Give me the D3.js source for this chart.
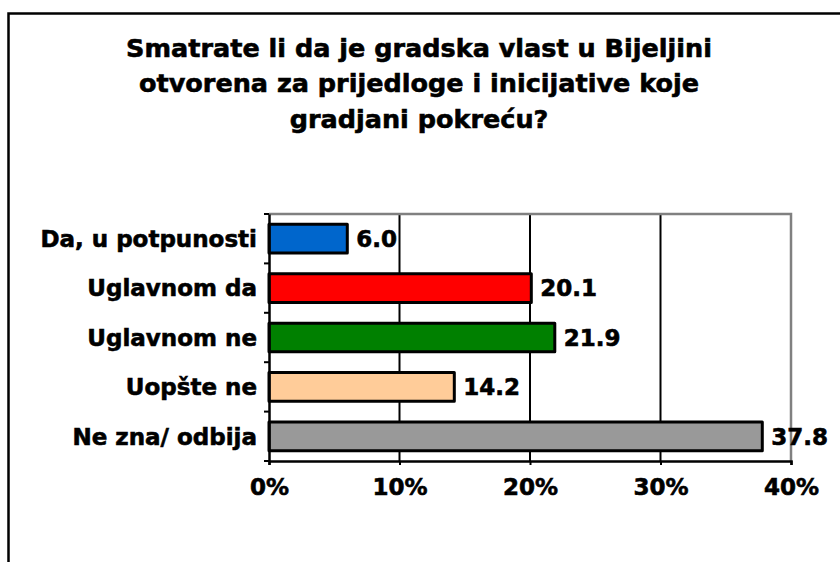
<!DOCTYPE html>
<html><head><meta charset="utf-8">
<script src="https://cdn.jsdelivr.net/npm/d3@7"></script>
<style>html,body{margin:0;padding:0;background:#fff;}svg{display:block;}svg text{font-family:"DejaVu Sans",Verdana,sans-serif !important;font-weight:bold;fill:#000;stroke:#000;stroke-width:0.6px;}</style>
</head><body>
<script>
const titleLines = ["Smatrate li da je gradska vlast u Bijeljini", "otvorena za prijedloge i inicijative koje", "gradjani pokreću?"];
const categories = ["Da, u potpunosti", "Uglavnom da", "Uglavnom ne", "Uopšte ne", "Ne zna/ odbija"];
const values = [6.0, 20.1, 21.9, 14.2, 37.8];
const colors = ["#0066CC", "#FF0000", "#008000", "#FFCC99", "#999999"];
const xTicks = [0, 10, 20, 30, 40];

const W = 840, H = 562;
const svg = d3.select("body").append("svg").attr("width", W).attr("height", H);

// outer chart border (extends beyond the right and bottom edges)
svg.append("rect").attr("x", 8.5).attr("y", 13.5).attr("width", 900).attr("height", 700)
  .attr("fill", "#fff").attr("stroke", "#000").attr("stroke-width", 2.5);

// title
svg.append("text").attr("text-anchor", "middle").style("font-size", "25.5px")
  .selectAll("tspan").data(titleLines).join("tspan")
  .attr("x", 419).attr("y", (d, i) => 56.5 + i * 35.5).text(d => d);

const L = 269, R = 791, T = 214, B = 461;
const x = d3.scaleLinear().domain([0, 40]).range([L, R]);
const y = d3.scaleBand().domain(categories).range([T, B]).paddingInner(0.42).paddingOuter(0.21);

// gridlines
svg.append("g").selectAll("line").data(xTicks.filter(t => t > 0 && t < 40)).join("line")
  .attr("x1", d => x(d)).attr("x2", d => x(d)).attr("y1", T).attr("y2", B)
  .attr("stroke", "#000").attr("stroke-width", 2);

// plot area gray border (top & right)
svg.append("path").attr("d", `M${L},${T}H${R}V${B}`).attr("fill", "none")
  .attr("stroke", "#808080").attr("stroke-width", 2.5);

// bars
svg.append("g").selectAll("rect").data(values).join("rect")
  .attr("x", x(0)).attr("y", (d, i) => y(categories[i]))
  .attr("width", d => x(d) - x(0)).attr("height", y.bandwidth())
  .attr("fill", (d, i) => colors[i]).attr("stroke", "#000").attr("stroke-width", 3)
  .attr("stroke-linejoin", "round");

// value labels
svg.append("g").selectAll("text").data(values).join("text")
  .attr("x", d => x(d) + 9).attr("y", (d, i) => y(categories[i]) + y.bandwidth() / 2)
  .attr("dy", "0.36em").style("font-size", "23px").text(d => d.toFixed(1));

// y axis
const yAxis = d3.axisLeft(y).tickSize(0).tickPadding(12);
const gy = svg.append("g").attr("transform", `translate(${L},0)`).call(yAxis);
gy.select(".domain").attr("stroke", "#000").attr("stroke-width", 2.5);
gy.selectAll("text").style("font-size", "23px").attr("dy", "0.36em");
// category separator ticks
const sepY = d3.range(categories.length + 1).map(i => T + i * (B - T) / categories.length);
svg.append("g").selectAll("line").data(sepY).join("line")
  .attr("x1", L - 5).attr("x2", L).attr("y1", d => d).attr("y2", d => d)
  .attr("stroke", "#000").attr("stroke-width", 2);

// x axis
const xAxis = d3.axisBottom(x).tickValues(xTicks).tickSize(4).tickPadding(14).tickFormat(d => d + "%");
const gx = svg.append("g").attr("transform", `translate(0,${B})`).call(xAxis);
gx.select(".domain").attr("stroke", "#000").attr("stroke-width", 2.5);
gx.selectAll(".tick line").attr("stroke", "#000").attr("stroke-width", 2);
gx.selectAll("text").style("font-size", "23px");
</script>
</body></html>
